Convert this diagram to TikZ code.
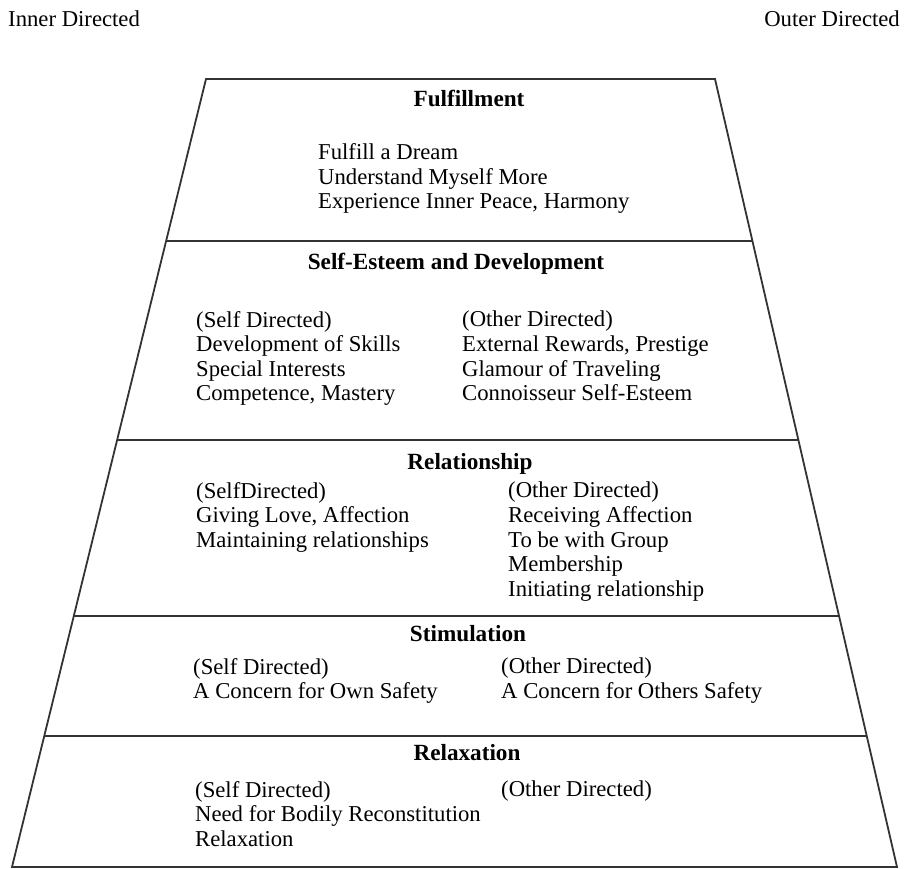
\documentclass[tikz,border=0pt]{standalone}
\usepackage{fontspec}
\setmainfont{Liberation Serif}
\usetikzlibrary{calc}

\begin{document}
\begin{tikzpicture}[x=1pt, y=-1pt,
    every node/.style={inner sep=0pt, font=\fontsize{22.7}{24.6}\selectfont},
    band/.style={line width=1.8pt, draw=black!80, line join=miter},
    head/.style={font=\fontsize{23.2}{24.6}\selectfont\bfseries, anchor=base},
    col/.style={align=left, anchor=north west}]
      \useasboundingbox (0,0) rectangle (904,869);
      % outline of the pyramid
      \coordinate (tl) at (206,79);
      \coordinate (tr) at (715,79);
      \coordinate (br) at (897,867);
      \coordinate (bl) at (12,867);
      \draw[band] (tl) -- (tr) -- (br) -- (bl) -- cycle;
      % band dividers
      \draw[band] ($(tl)!0.2056!(bl)$) -- ($(tr)!0.2056!(br)$);
      \draw[band] ($(tl)!0.4581!(bl)$) -- ($(tr)!0.4581!(br)$);
      \draw[band] ($(tl)!0.6815!(bl)$) -- ($(tr)!0.6815!(br)$);
      \draw[band] ($(tl)!0.8338!(bl)$) -- ($(tr)!0.8338!(br)$);
      % side labels
      \node[anchor=base west] (inner) at (8,27) {Inner Directed};
      \node[anchor=base east] (outer) at (900,27) {Outer Directed};
      % fulfillment
      \node[head] (fulfil) at (469,107) {Fulfillment};
      \node[col] (fulfilList) at (318,143.5) {Fulfill a Dream\\Understand Myself More\\Experience Inner Peace, Harmony};
      % self-esteem
      \node[head] (esteem) at (456,269) {Self-Esteem and Development};
      \node[col] (esteemSelf) at (196,311) {(Self Directed)\\Development of Skills\\Special Interests\\Competence, Mastery};
      \node[col] (esteemOther) at (462,311) {(Other Directed)\\External Rewards, Prestige\\Glamour of Traveling\\Connoisseur Self-Esteem};
      % relationship
      \node[head] (relate) at (470,469) {Relationship};
      \node[col] (relateSelf) at (196,482) {(SelfDirected)\\Giving Love, Affection\\Maintaining relationships};
      \node[col] (relateOther) at (508,482) {(Other Directed)\\Receiving Affection\\To be with Group\\Membership\\Initiating relationship};
      % stimulation
      \node[head] (stim) at (468,641) {Stimulation};
      \node[col] (stimSelf) at (193,658) {(Self Directed)\\A Concern for Own Safety};
      \node[col] (stimOther) at (501,658) {(Other Directed)\\A Concern for Others Safety};
      % relaxation
      \node[head] (relax) at (467,760) {Relaxation};
      \node[col] (relaxSelf) at (195,781) {(Self Directed)\\Need for Bodily Reconstitution\\Relaxation};
      \node[col] (relaxOther) at (501,781) {(Other Directed)};
\end{tikzpicture}
\end{document}
